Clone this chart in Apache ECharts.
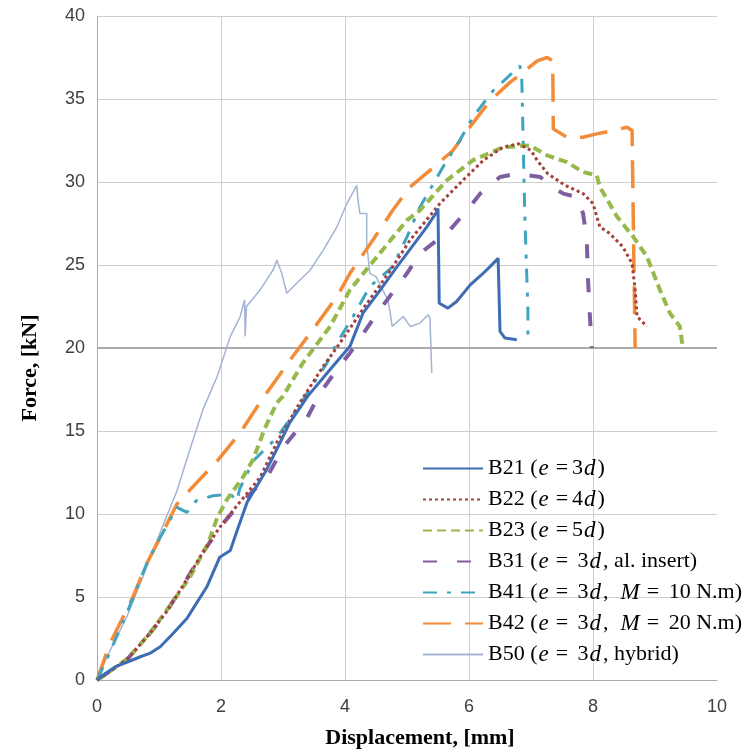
<!DOCTYPE html>
<html>
<head>
<meta charset="utf-8">
<script src="https://cdn.jsdelivr.net/npm/echarts@6/dist/echarts.min.js"></script>
<style>html,body{margin:0;padding:0;background:#fff}#c{width:752px;height:755px}</style>
</head>
<body>
<div id="c"></div>
<script>
const seriesNames = ['B21','B22','B23','B31','B41','B42','B50'];
const legendTexts = {
  B21: 'B21 ({m|e}{q|=}3{m|d})',
  B22: 'B22 ({m|e}{q|=}4{m|d})',
  B23: 'B23 ({m|e}{q|=}5{m|d})',
  B31: 'B31 ({m|e}{q|=} 3{m|d}, al. insert)',
  B41: 'B41 ({m|e}{q|=} 3{m|d},  {m|M}{q|=} 10 N.m)',
  B42: 'B42 ({m|e}{q|=} 3{m|d},  {m|M}{q|=} 20 N.m)',
  B50: 'B50 ({m|e}{q|=} 3{m|d}, hybrid)'
};
const xTicks = [0,2,4,6,8,10];
const yTicks = [0,5,10,15,20,25,30,35,40];

const B21 = [[0,0],[0.1,0.3],[0.3,0.8],[0.5,1.1],[0.7,1.4],[0.85,1.6],[1.02,2.0],[1.2,2.7],[1.45,3.7],[1.6,4.6],[1.77,5.6],[1.98,7.4],[2.15,7.8],[2.26,9.0],[2.42,10.7],[2.74,12.7],[2.9,13.9],[3.11,15.5],[3.4,17.1],[3.76,18.7],[4.08,20.1],[4.29,22.1],[4.55,23.4],[4.84,24.9],[5.1,26.2],[5.32,27.3],[5.48,28.2],[5.5,28.4],[5.52,22.7],[5.66,22.4],[5.8,22.8],[6.02,23.8],[6.2,24.4],[6.34,24.9],[6.47,25.4],[6.5,21.0],[6.58,20.6],[6.77,20.5]];
const B22 = [[0,0],[0.2,0.5],[0.5,1.3],[0.85,2.8],[1.1,4.0],[1.34,5.4],[1.66,7.4],[1.98,9.2],[2.3,10.7],[2.63,12.2],[2.9,14.3],[3.27,16.7],[3.65,18.9],[3.92,20.3],[4.3,22.4],[4.7,24.5],[5.05,26.5],[5.53,28.7],[5.9,30.1],[6.23,31.3],[6.55,32.1],[6.8,32.3],[7.0,31.9],[7.1,31.3],[7.27,30.5],[7.55,29.8],[7.84,29.3],[8.0,28.7],[8.11,27.3],[8.27,26.9],[8.48,26.1],[8.63,25.1],[8.68,23.5],[8.71,21.9],[8.87,21.3]];
const B23 = [[0,0],[0.2,0.5],[0.5,1.3],[0.85,2.8],[1.2,4.6],[1.5,6.2],[1.8,8.3],[1.94,9.8],[2.1,10.9],[2.35,12.2],[2.52,13.3],[2.7,15.1],[2.9,16.7],[3.0,17.1],[3.32,19.1],[3.76,21.3],[4.08,23.5],[4.56,25.7],[5.0,27.7],[5.21,28.3],[5.64,30.1],[6.06,31.3],[6.55,32.1],[6.98,32.2],[7.26,31.6],[7.58,31.2],[7.84,30.6],[8.06,30.4],[8.11,29.7],[8.39,27.9],[8.65,26.7],[8.87,25.5],[9.08,23.5],[9.24,22.1],[9.4,21.3],[9.45,20.0]];
const B31 = [[0,0],[0.2,0.5],[0.5,1.3],[0.85,2.8],[1.1,4.0],[1.34,5.4],[1.66,7.4],[1.98,9.2],[2.3,10.6],[2.74,12.2],[3.0,14.0],[3.39,15.8],[3.6,17.3],[3.87,18.7],[4.08,19.7],[4.52,22.1],[5.0,24.5],[5.21,25.7],[5.69,27.1],[5.97,28.3],[6.18,29.3],[6.5,30.3],[6.77,30.5],[7.15,30.3],[7.35,29.7],[7.52,29.3],[7.74,29.1],[7.84,28.1],[7.9,26.5],[7.92,24.1],[7.95,21.9],[7.98,20.0]];
const B41 = [[0,0],[0.2,1.6],[0.5,4.2],[0.8,7.0],[1.02,8.6],[1.29,10.4],[1.45,10.1],[1.6,10.8],[1.87,11.1],[2.15,11.2],[2.26,10.8],[2.3,11.5],[2.52,13.2],[2.9,14.6],[3.22,16.3],[3.71,19.1],[3.87,20.3],[4.13,21.9],[4.4,23.7],[4.77,24.9],[5.0,26.7],[5.21,28.5],[5.58,30.9],[5.85,32.5],[6.06,33.9],[6.39,35.5],[6.82,37.0],[6.85,36.5],[6.9,28.0],[6.95,22.3],[6.95,20.5]];
const B42 = [[0,0],[0.21,2.2],[0.58,5.0],[0.8,7.0],[1.02,8.6],[1.29,10.6],[1.34,10.8],[1.61,11.9],[1.94,13.2],[2.31,14.9],[2.68,17.0],[3.16,19.5],[3.48,21.1],[3.87,23.1],[4.08,24.5],[4.45,26.5],[4.77,28.3],[5.05,29.7],[5.37,30.7],[5.74,31.9],[5.97,33.1],[6.34,34.9],[6.66,36.0],[6.87,36.6],[7.1,37.3],[7.26,37.5],[7.35,37.3],[7.36,33.2],[7.58,32.7],[7.84,32.7],[8.06,32.9],[8.32,33.1],[8.55,33.3],[8.63,33.1],[8.66,25.0],[8.68,20.0]];
const B50 = [[0,0],[0.16,1.4],[0.48,3.8],[0.74,6.2],[1.02,8.9],[1.29,11.4],[1.5,13.9],[1.71,16.3],[1.94,18.3],[2.15,20.7],[2.31,21.9],[2.38,22.9],[2.39,20.7],[2.41,22.5],[2.63,23.5],[2.84,24.7],[2.9,25.3],[2.98,24.5],[3.06,23.3],[3.22,23.9],[3.44,24.7],[3.65,25.9],[3.87,27.3],[4.03,28.7],[4.19,29.8],[4.21,28.9],[4.24,28.1],[4.35,28.1],[4.35,26.3],[4.4,24.5],[4.5,24.3],[4.69,22.9],[4.73,22.1],[4.76,21.3],[4.94,21.9],[5.05,21.3],[5.21,21.5],[5.34,22.0],[5.37,21.8],[5.4,18.5]];

const dataMap = {B21,B22,B23,B31,B41,B42,B50};
const styles = {
  B21: {color:'#3E6DB5', width:3, type:'solid'},
  B22: {color:'#A5403D', width:3, type:[3,3]},
  B23: {color:'#96B94B', width:4, type:[9,5]},
  B31: {color:'#7E5DA0', width:4, type:[14,20]},
  B41: {color:'#3FA5BF', width:3, type:[14,10,4,10]},
  B42: {color:'#F28C38', width:3.5, type:[28,14]},
  B50: {color:'#A3B3D6', width:1.5, type:'solid'}
};

const chart = echarts.init(document.getElementById('c'));
const series = seriesNames.map((n, i) => {
  const s = {
    name: n, type: 'line', data: dataMap[n], symbol: 'none', smooth: false,
    lineStyle: {color: styles[n].color, width: styles[n].width, type: styles[n].type, cap: 'butt'},
    itemStyle: {color: styles[n].color},
    z: 10 - i, animation: false
  };
  if (i === 0) {
    s.markLine = {silent: true, symbol: 'none', label: {show: false}, animation: false,
      lineStyle: {color: '#ABABAB', width: 2, type: 'solid'}, data: [{yAxis: 20}]};
  }
  return s;
});

chart.setOption({
  backgroundColor: '#fff',
  animation: false,
  grid: {left: 97, right: 35, top: 16, bottom: 75},
  xAxis: {
    type: 'value', min: xTicks[0], max: xTicks[xTicks.length-1], interval: 2,
    name: 'Displacement, [mm]', nameLocation: 'middle', nameGap: 47,
    nameTextStyle: {fontFamily: 'Liberation Serif', fontWeight: 'bold', fontSize: 22, color: '#000', padding: [0,0,0,26]},
    axisLine: {show: true, lineStyle: {color: '#ABABAB', width: 1}},
    axisTick: {show: false},
    axisLabel: {fontFamily: 'Liberation Sans', fontSize: 18, color: '#404040', margin: 18},
    splitLine: {show: true, showMaxLine: false, lineStyle: {color: '#CFCFCF', width: 1}}
  },
  yAxis: {
    type: 'value', min: yTicks[0], max: yTicks[yTicks.length-1], interval: 5,
    name: 'Force, [kN]', nameLocation: 'middle', nameGap: 56,
    nameTextStyle: {fontFamily: 'Liberation Serif', fontWeight: 'bold', fontSize: 22, color: '#000', padding: [0,40,0,0]},
    axisLine: {show: true, lineStyle: {color: '#ABABAB', width: 1}},
    axisTick: {show: false},
    axisLabel: {fontFamily: 'Liberation Sans', fontSize: 18, color: '#404040', margin: 12},
    splitLine: {show: true, lineStyle: {color: '#CFCFCF', width: 1}}
  },
  legend: {
    orient: 'vertical', left: 417, top: 452,
    itemWidth: 60, itemHeight: 14, itemGap: 8,
    itemStyle: {opacity: 0},
    data: seriesNames,
    formatter: n => legendTexts[n],
    textStyle: {fontFamily: 'Liberation Serif', fontSize: 22, color: '#000', lineHeight: 22,
      rich: {
        m: {fontFamily: 'Liberation Serif', fontStyle: 'italic', fontSize: 23, color: '#000', lineHeight: 22, padding: [0,2,0,1]},
        q: {fontFamily: 'Liberation Serif', fontSize: 22, color: '#000', lineHeight: 22, padding: [0,4,0,5]}
      }}
  },
  series: series
});
</script>
</body>
</html>
